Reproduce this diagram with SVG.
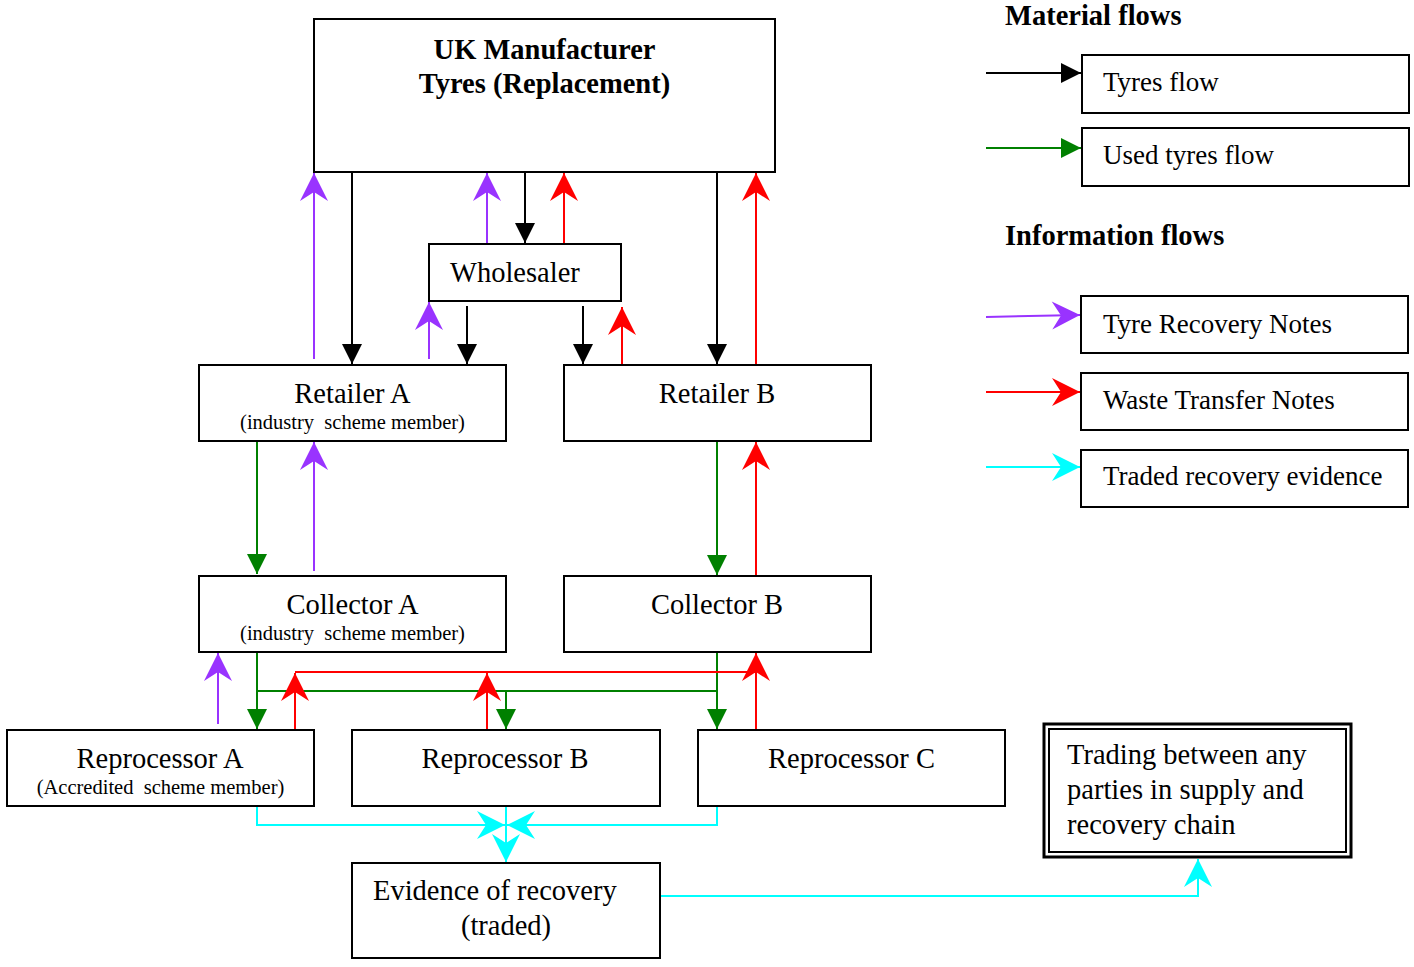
<svg xmlns="http://www.w3.org/2000/svg" width="1414" height="967" viewBox="0 0 1414 967">
<style>
.box{fill:#fff;stroke:#000;stroke-width:2}
.t{font-family:"Liberation Serif","Times New Roman",serif;font-size:28.5px;fill:#000}
.c{text-anchor:middle}
.b{font-weight:bold}
.s{font-size:20.5px}
.lg{font-size:27px}
.k{stroke:#000;stroke-width:2;fill:none}
.g{stroke:#008000;stroke-width:2;fill:none}
.p{stroke:#9933ff;stroke-width:2;fill:none}
.r{stroke:#ff0000;stroke-width:2;fill:none}
.cy{stroke:#00ffff;stroke-width:2;fill:none}
.mk{marker-end:url(#ak)}
.mg{marker-end:url(#ag)}
.mp{marker-end:url(#ap)}
.mr{marker-end:url(#ar)}
.mc{marker-end:url(#ac)}
</style>
<defs>
<marker id="ak" viewBox="-22 -12 24 24" refX="0" refY="0" markerWidth="24" markerHeight="24" markerUnits="userSpaceOnUse" orient="auto"><path d="M0,0 L-20,-10 L-20,10 Z" fill="#000"/></marker>
<marker id="ag" viewBox="-22 -12 24 24" refX="0" refY="0" markerWidth="24" markerHeight="24" markerUnits="userSpaceOnUse" orient="auto"><path d="M0,0 L-20,-10 L-20,10 Z" fill="#008000"/></marker>
<marker id="ap" viewBox="-30 -16 32 32" refX="0" refY="0" markerWidth="32" markerHeight="32" markerUnits="userSpaceOnUse" orient="auto"><path d="M0,0 L-28,-14 L-19,0 L-28,14 Z" fill="#9933ff"/></marker>
<marker id="ar" viewBox="-30 -16 32 32" refX="0" refY="0" markerWidth="32" markerHeight="32" markerUnits="userSpaceOnUse" orient="auto"><path d="M0,0 L-28,-14 L-19,0 L-28,14 Z" fill="#ff0000"/></marker>
<marker id="ac" viewBox="-30 -16 32 32" refX="0" refY="0" markerWidth="32" markerHeight="32" markerUnits="userSpaceOnUse" orient="auto"><path d="M0,0 L-28,-14 L-19,0 L-28,14 Z" fill="#00ffff"/></marker>
</defs>
<rect width="1414" height="967" fill="#fff"/>

<g id="connectors">
<!-- top section -->
<path class="p mp" d="M314,359 V173"/>
<path class="k mk" d="M352,173 V364"/>
<path class="p mp" d="M487,243 V173"/>
<path class="k mk" d="M525,173 V243"/>
<path class="r mr" d="M564,243 V173"/>
<path class="k mk" d="M717,173 V364"/>
<path class="r mr" d="M756,364 V173"/>
<path class="p mp" d="M429,359 V302"/>
<path class="k mk" d="M467,306 V364"/>
<path class="k mk" d="M583,306 V364"/>
<path class="r mr" d="M622,364 V307"/>
<!-- middle -->
<path class="g mg" d="M257,442 V574"/>
<path class="p mp" d="M314,571 V442"/>
<path class="g mg" d="M717,442 V575"/>
<path class="r mr" d="M756,575 V442"/>
<!-- bottom -->
<path class="p mp" d="M218,724 V653"/>
<path class="g mg" d="M257,653 V729"/>
<path class="g" d="M257,691 H717"/>
<path class="g mg" d="M506,691 V729"/>
<path class="g mg" d="M717,653 V729"/>
<path class="r" d="M295,672 H756"/>
<path class="r mr" d="M295,729 V673"/>
<path class="r mr" d="M487,729 V673"/>
<path class="r mr" d="M756,729 V653"/>
<!-- cyan -->
<path class="cy mc" d="M257,807 V825 H505"/>
<path class="cy mc" d="M717,807 V825 H507"/>
<path class="cy mc" d="M506,807 V862"/>
<path class="cy mc" d="M661,896 H1198 V859"/>
<!-- legend arrows -->
<path class="k mk" d="M986,73 H1081"/>
<path class="g mg" d="M986,148 H1081"/>
<path class="p mp" d="M986,317 L1080,315"/>
<path class="r mr" d="M986,392 H1080"/>
<path class="cy mc" d="M986,467 H1080"/>
</g>

<g id="manufacturer">
<rect class="box" x="314" y="19" width="461" height="153"/>
<text class="t b c" x="544.5" y="59">UK Manufacturer</text>
<text class="t b c" x="544.5" y="93">Tyres (Replacement)</text>
</g>
<g id="wholesaler">
<rect class="box" x="429" y="244" width="192" height="57"/>
<text class="t" x="450" y="282">Wholesaler</text>
</g>
<g id="retailer-a">
<rect class="box" x="199" y="365" width="307" height="76"/>
<text class="t c" x="352.5" y="403">Retailer A</text>
<text class="t s c" x="352.5" y="429" xml:space="preserve">(industry  scheme member)</text>
</g>
<g id="retailer-b">
<rect class="box" x="564" y="365" width="307" height="76"/>
<text class="t c" x="717" y="403">Retailer B</text>
</g>
<g id="collector-a">
<rect class="box" x="199" y="576" width="307" height="76"/>
<text class="t c" x="352.5" y="614">Collector A</text>
<text class="t s c" x="352.5" y="640" xml:space="preserve">(industry  scheme member)</text>
</g>
<g id="collector-b">
<rect class="box" x="564" y="576" width="307" height="76"/>
<text class="t c" x="717" y="614">Collector B</text>
</g>
<g id="reprocessor-a">
<rect class="box" x="7" y="730" width="307" height="76"/>
<text class="t c" x="160" y="768">Reprocessor A</text>
<text class="t s c" x="160.5" y="794" xml:space="preserve">(Accredited  scheme member)</text>
</g>
<g id="reprocessor-b">
<rect class="box" x="352" y="730" width="308" height="76"/>
<text class="t c" x="505" y="768">Reprocessor B</text>
</g>
<g id="reprocessor-c">
<rect class="box" x="698" y="730" width="307" height="76"/>
<text class="t c" x="851.5" y="768">Reprocessor C</text>
</g>
<g id="evidence">
<rect class="box" x="352" y="863" width="308" height="95"/>
<text class="t" x="373" y="900">Evidence of recovery</text>
<text class="t c" x="506" y="935">(traded)</text>
</g>
<g id="trading">
<rect x="1044" y="724" width="307" height="133" fill="#fff" stroke="#000" stroke-width="3"/>
<rect x="1049" y="729" width="297" height="123" fill="none" stroke="#000" stroke-width="2"/>
<text class="t" x="1067" y="764">Trading between any</text>
<text class="t" x="1067" y="799">parties in supply and</text>
<text class="t" x="1067" y="834">recovery chain</text>
</g>
<g id="legend">
<text class="t b" x="1005" y="25">Material flows</text>
<text class="t b" x="1005" y="245">Information flows</text>
<rect class="box" x="1082" y="55" width="327" height="58"/>
<text class="t lg" x="1103" y="91">Tyres flow</text>
<rect class="box" x="1082" y="128" width="327" height="58"/>
<text class="t lg" x="1103" y="164">Used tyres flow</text>
<rect class="box" x="1081" y="296" width="327" height="57"/>
<text class="t lg" x="1103" y="333">Tyre Recovery Notes</text>
<rect class="box" x="1081" y="373" width="327" height="57"/>
<text class="t lg" x="1103" y="409">Waste Transfer Notes</text>
<rect class="box" x="1081" y="450" width="327" height="57"/>
<text class="t lg" x="1103" y="485">Traded recovery evidence</text>
</g>
</svg>
